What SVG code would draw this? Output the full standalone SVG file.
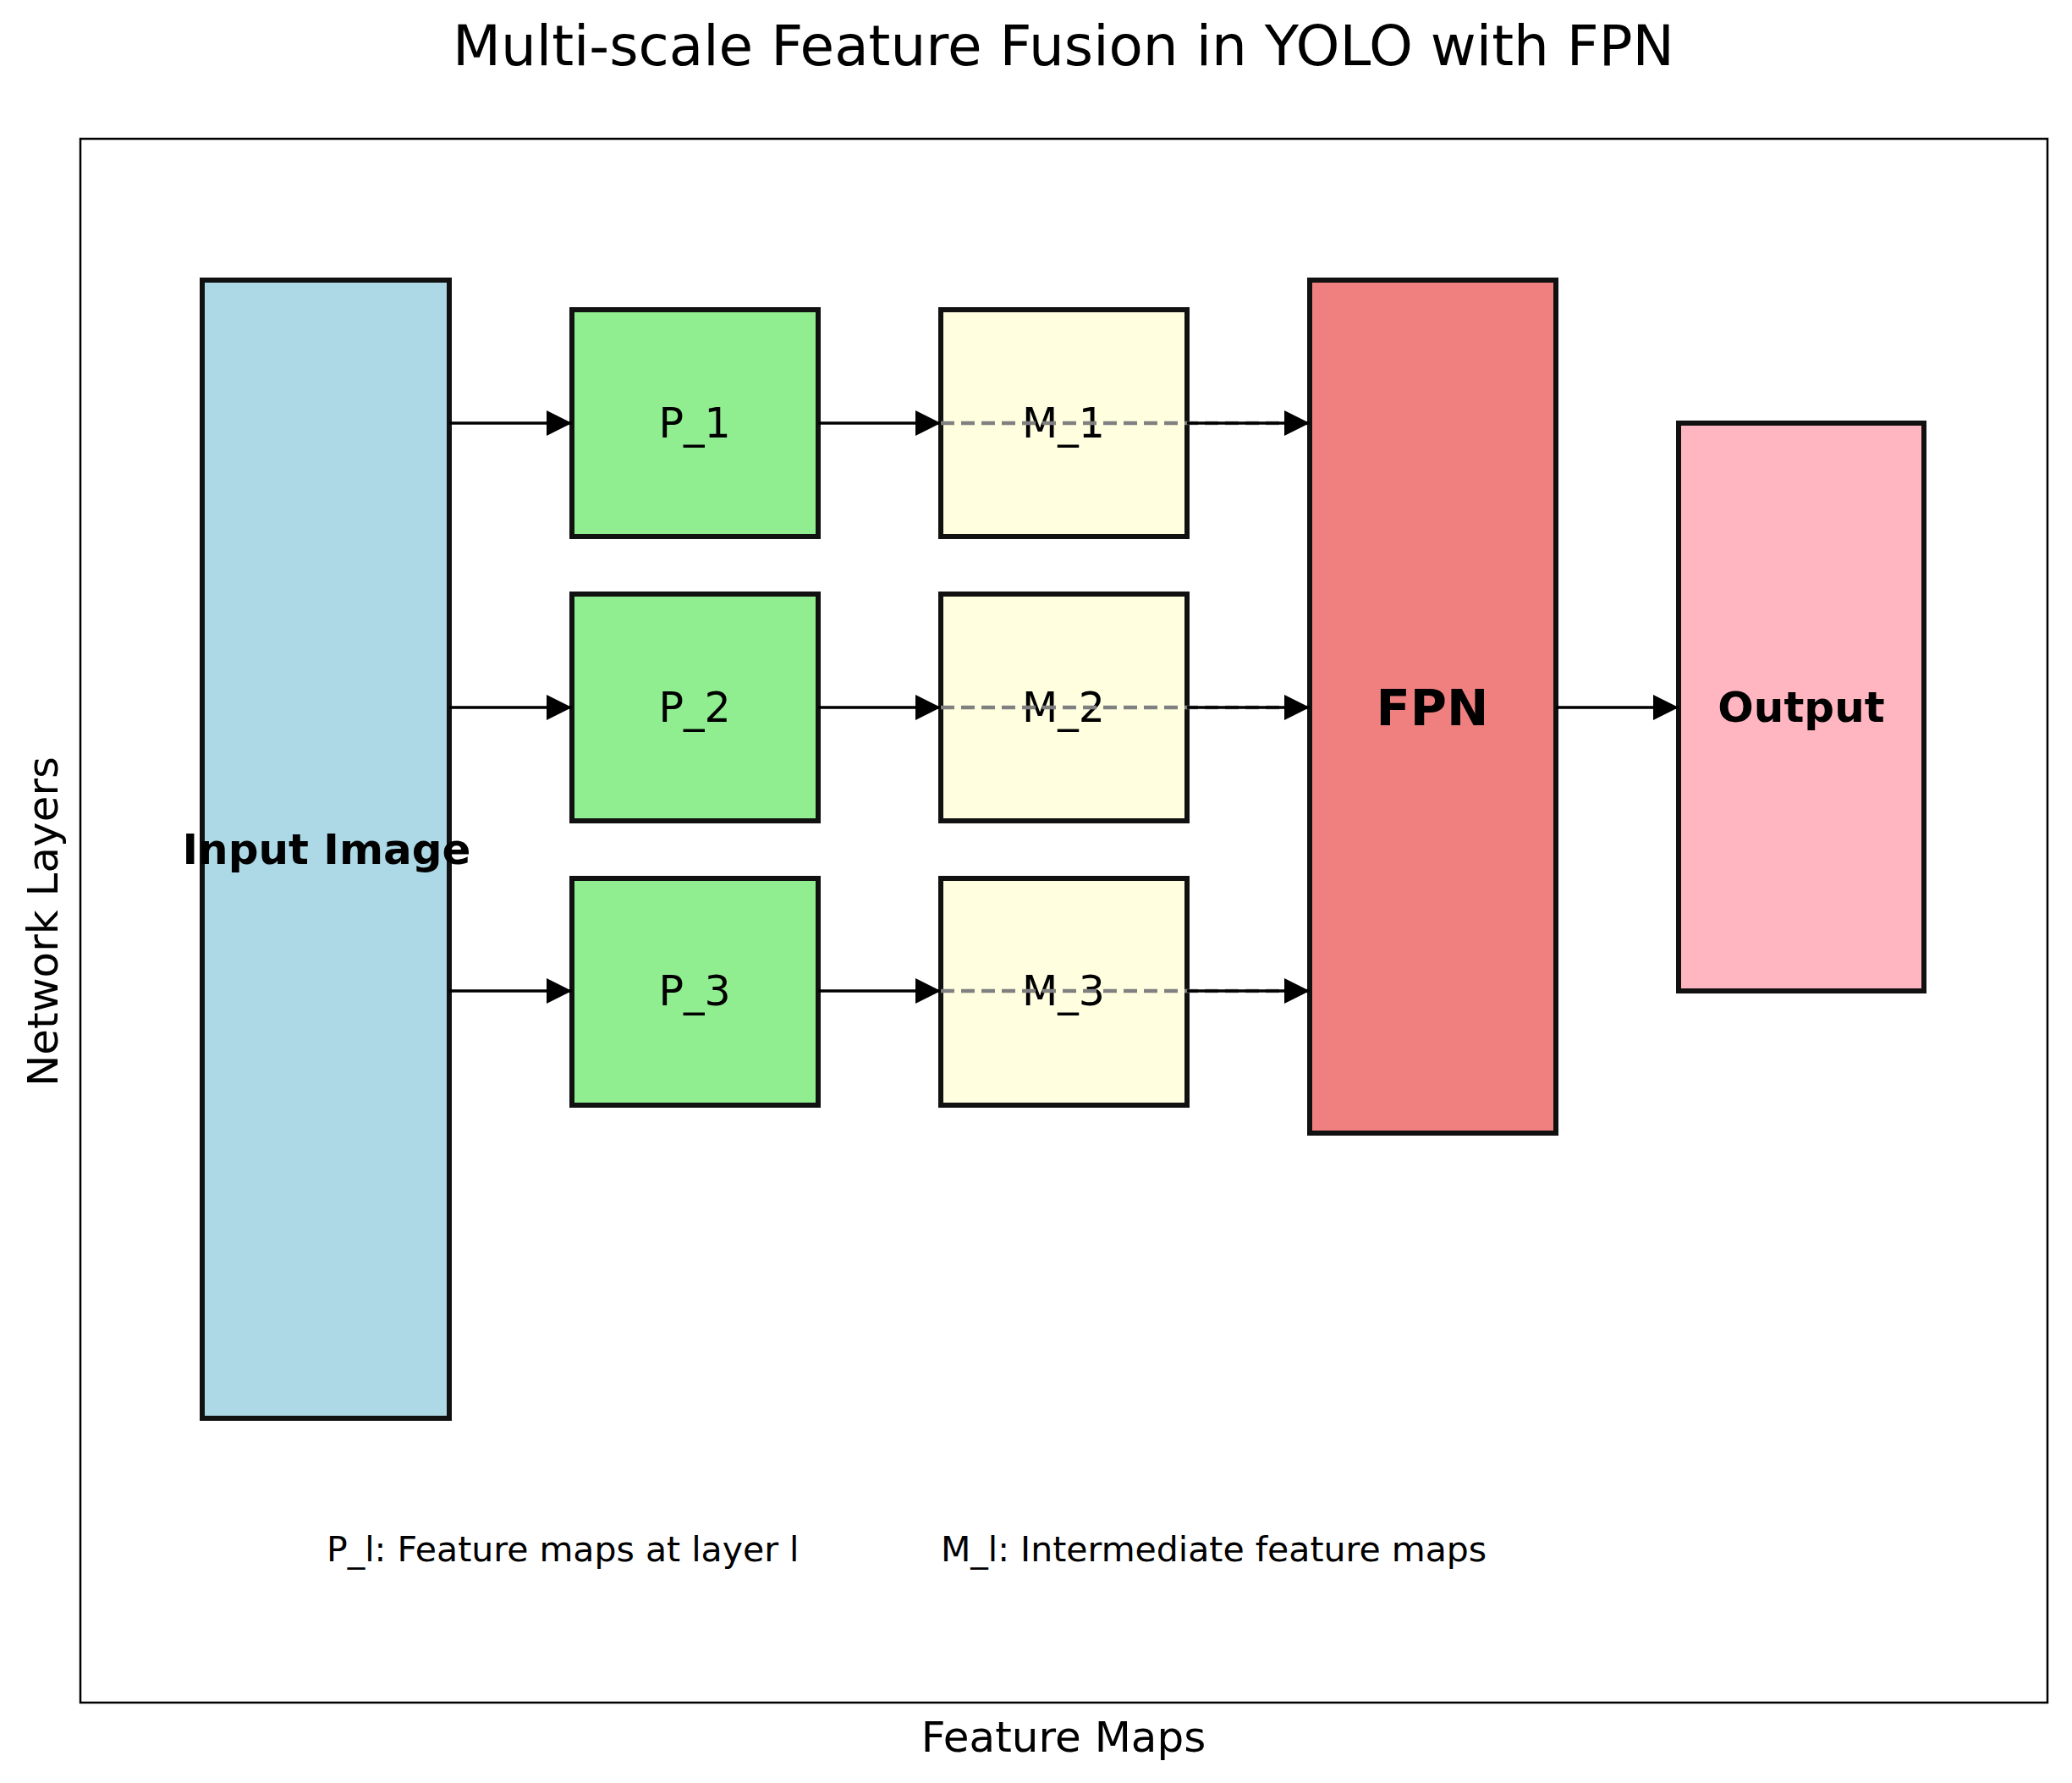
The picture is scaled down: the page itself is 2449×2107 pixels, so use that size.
<svg xmlns="http://www.w3.org/2000/svg" width="2449" height="2107" viewBox="0 0 2449 2107">
<style>
text{font-family:"DejaVu Sans",sans-serif;fill:#000}
.box{stroke:#111;stroke-width:6}
.lbl{font-size:49px;text-anchor:middle;dominant-baseline:central}
.b{font-weight:bold}
.a{stroke:#000;stroke-width:3.5;fill:none;marker-end:url(#ah)}
.d{stroke:#808080;stroke-width:4.5;stroke-dasharray:16,8;fill:none}
</style>
<defs><marker id="ah" markerUnits="userSpaceOnUse" markerWidth="32" markerHeight="32" refX="30" refY="15" orient="auto"><path d="M0,0L30,15L0,30z" fill="#000"/></marker></defs>
<rect width="2449" height="2107" fill="#fff"/>
<text x="1257" y="77" font-size="66" text-anchor="middle">Multi-scale Feature Fusion in YOLO with FPN</text>
<rect x="95" y="164" width="2325" height="1848" fill="none" stroke="#000" stroke-width="2.5"/>
<text x="1257" y="2070" font-size="50" text-anchor="middle">Feature Maps</text>
<text transform="translate(68,1089) rotate(-90)" font-size="50" text-anchor="middle">Network Layers</text>
<g id="input"><rect class="box" x="239" y="331" width="292" height="1345" fill="#add8e6"/><text class="lbl b" x="386" y="1004" style="font-size:50px">Input Image</text></g>
<g id="p1"><rect class="box" x="676" y="366" width="291" height="268" fill="#90ee90"/><text class="lbl" x="821" y="500">P_1</text></g>
<g id="p2"><rect class="box" x="676" y="702" width="291" height="268" fill="#90ee90"/><text class="lbl" x="821" y="836">P_2</text></g>
<g id="p3"><rect class="box" x="676" y="1038" width="291" height="268" fill="#90ee90"/><text class="lbl" x="821" y="1171">P_3</text></g>
<g id="m1"><rect class="box" x="1112" y="366" width="291" height="268" fill="#ffffe0"/><text class="lbl" x="1257" y="500">M_1</text></g>
<g id="m2"><rect class="box" x="1112" y="702" width="291" height="268" fill="#ffffe0"/><text class="lbl" x="1257" y="836">M_2</text></g>
<g id="m3"><rect class="box" x="1112" y="1038" width="291" height="268" fill="#ffffe0"/><text class="lbl" x="1257" y="1171">M_3</text></g>
<g id="fpn"><rect class="box" x="1548" y="331" width="291" height="1008" fill="#f08080"/><text class="lbl b" x="1693" y="836" style="font-size:59px">FPN</text></g>
<g id="output"><rect class="box" x="1984" y="500" width="290" height="671" fill="#ffb6c1"/><text class="lbl b" x="2129" y="836" style="font-size:50px">Output</text></g>
<g id="connectors">
<path class="a" d="M531,500H676"/><path class="a" d="M531,836H676"/><path class="a" d="M531,1171H676"/>
<path class="a" d="M967,500H1112"/><path class="a" d="M967,836H1112"/><path class="a" d="M967,1171H1112"/>
<path class="d" d="M1112,500H1545"/><path class="d" d="M1112,836H1545"/><path class="d" d="M1112,1171H1545"/>
<path class="a" d="M1403,500H1548"/><path class="a" d="M1403,836H1548"/><path class="a" d="M1403,1171H1548"/>
<path class="a" d="M1839,836H1984"/>
</g>
<text x="386" y="1845" font-size="41">P_l: Feature maps at layer l</text>
<text x="1112" y="1845" font-size="41">M_l: Intermediate feature maps</text>
</svg>
